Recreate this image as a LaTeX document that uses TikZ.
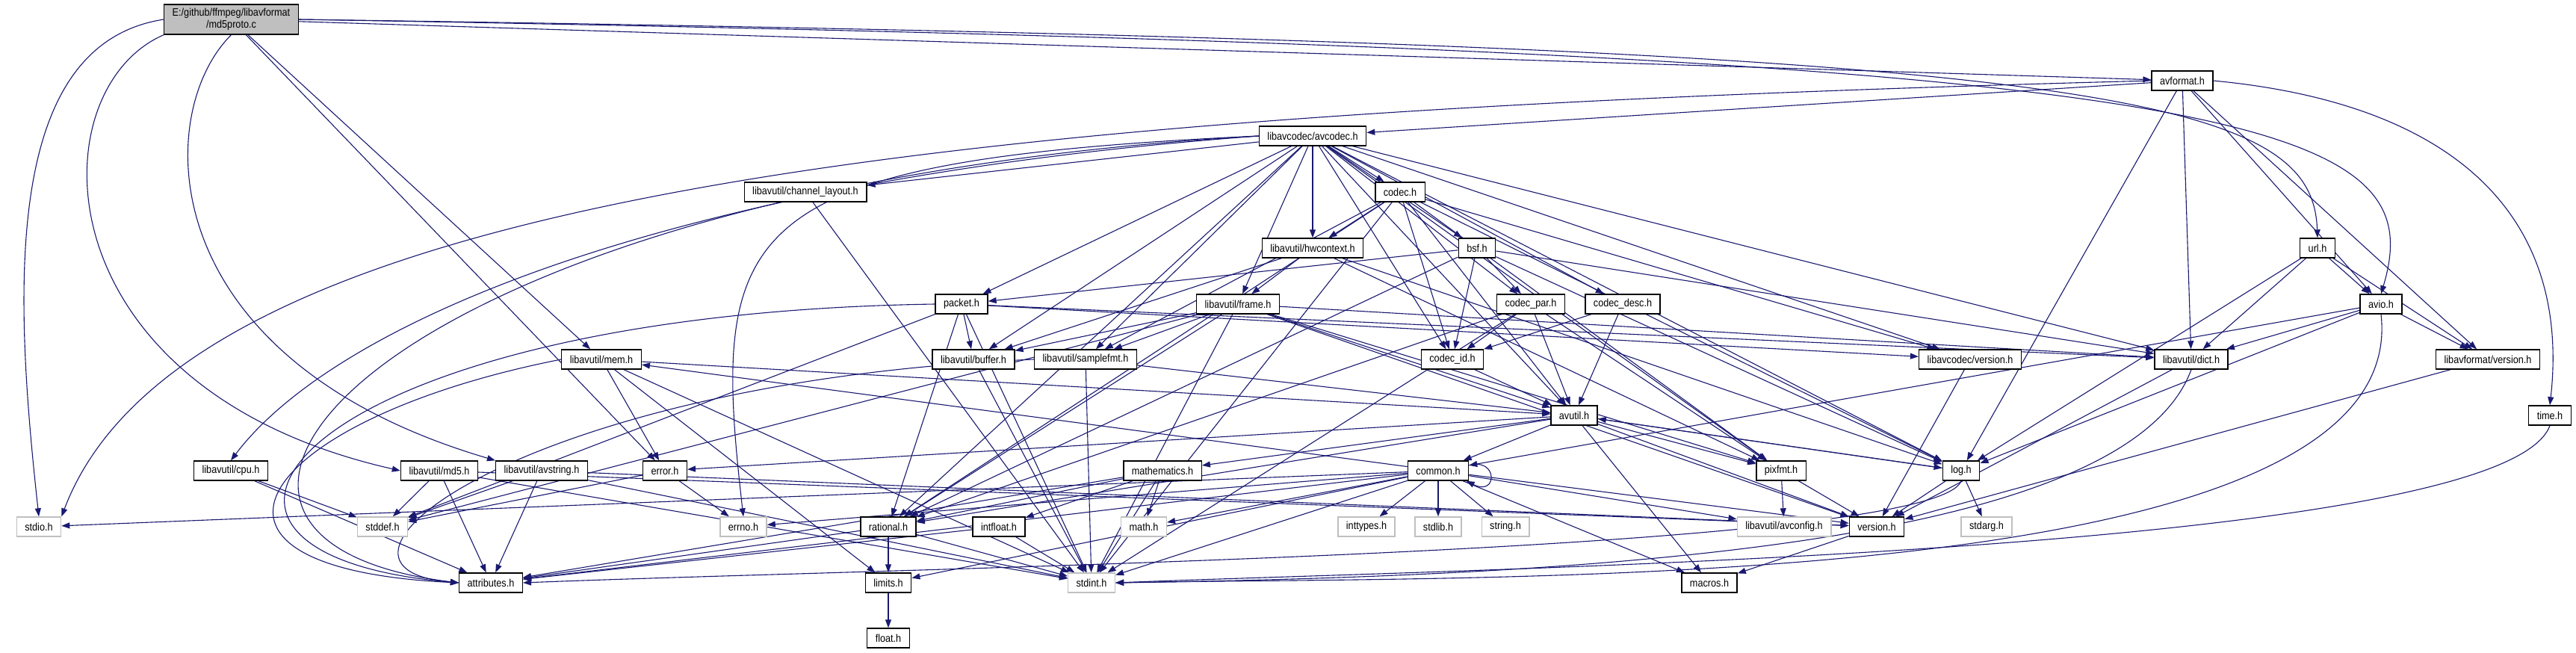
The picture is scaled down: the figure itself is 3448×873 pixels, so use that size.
\documentclass[tikz,border=0pt]{standalone}
\usepackage{fontspec}
\setmainfont{Liberation Sans}[FakeStretch=0.88]
\usetikzlibrary{arrows.meta,backgrounds}
\definecolor{edgeblue}{HTML}{191970}
\definecolor{sysgray}{HTML}{BFBFBF}
\begin{document}
\begin{tikzpicture}[x=1pt,y=-1pt,>={Triangle[length=11pt,width=8pt]},font=\fontsize{14.4}{16}\selectfont,
		file/.style={draw=black,fill=white,line width=1.4pt,minimum height=26pt,inner xsep=11pt,inner ysep=0pt},
		sys/.style={file,draw=sysgray},
		root/.style={file,fill=sysgray,align=center,minimum height=40pt},
		dep/.style={->,draw=edgeblue,line width=1.1pt}]
	\useasboundingbox (0,0) rectangle (3448,873);
	\node[root] (root) at (309.5,26) {E:/github/ffmpeg/libavformat\\/md5proto.c};
	\node[file] (avformat) at (2921,108) {avformat.h};
	\node[file] (avcodec) at (1757,182) {libavcodec/avcodec.h};
	\node[file] (chlayout) at (1078,257) {libavutil/channel\_layout.h};
	\node[file] (codec) at (1874,257) {codec.h};
	\node[file] (hwctx) at (1757,332) {libavutil/hwcontext.h};
	\node[file] (bsf) at (1977,332) {bsf.h};
	\node[file] (url) at (3102,332) {url.h};
	\node[file] (packet) at (1287,407) {packet.h};
	\node[file] (frame) at (1657,407) {libavutil/frame.h};
	\node[file] (codecpar) at (2049,407) {codec\_par.h};
	\node[file] (codecdesc) at (2172,407) {codec\_desc.h};
	\node[file] (avio) at (3187,407) {avio.h};
	\node[file] (mem) at (805,481) {libavutil/mem.h};
	\node[file] (buffer) at (1303,481) {libavutil/buffer.h};
	\node[file] (samplefmt) at (1453,481) {libavutil/samplefmt.h};
	\node[file] (codecid) at (1944,481) {codec\_id.h};
	\node[file] (lavcver) at (2637,481) {libavcodec/version.h};
	\node[file] (dict) at (2933,481) {libavutil/dict.h};
	\node[file] (lavfver) at (3330,481) {libavformat/version.h};
	\node[file] (timeh) at (3413,556) {time.h};
	\node[file] (avutil) at (2107,556) {avutil.h};
	\node[file] (cpu) at (309,630) {libavutil/cpu.h};
	\node[file] (md5) at (588,630) {libavutil/md5.h};
	\node[file] (avstring) at (725,630) {libavutil/avstring.h};
	\node[file] (error) at (890,630) {error.h};
	\node[file] (mathematics) at (1556,630) {mathematics.h};
	\node[file] (common) at (1925,630) {common.h};
	\node[file] (pixfmt) at (2384,630) {pixfmt.h};
	\node[file] (log) at (2625,630) {log.h};
	\node[sys] (stdio) at (52,705) {stdio.h};
	\node[sys] (stddef) at (512,705) {stddef.h};
	\node[sys] (errno) at (995,705) {errno.h};
	\node[file] (rational) at (1189,705) {rational.h};
	\node[file] (intfloat) at (1337,705) {intfloat.h};
	\node[sys] (math) at (1531,705) {math.h};
	\node[sys] (inttypes) at (1829,705) {inttypes.h};
	\node[sys] (stdlib) at (1925,705) {stdlib.h};
	\node[sys] (string) at (2015,705) {string.h};
	\node[sys] (avconfig) at (2388,705) {libavutil/avconfig.h};
	\node[file] (version) at (2512,705) {version.h};
	\node[sys] (stdarg) at (2659,705) {stdarg.h};
	\node[file] (attributes) at (657,780) {attributes.h};
	\node[file] (limits) at (1189,780) {limits.h};
	\node[sys] (stdint) at (1461,780) {stdint.h};
	\node[file] (macros) at (2288,780) {macros.h};
	\node[file] (float) at (1189,854) {float.h};
	\begin{scope}[on background layer]
		\foreach \t in {mem,error,avformat} \draw[dep] (root) -- (\t);
		\draw[dep] (root.west) .. controls (0,60) and (20,400) .. (stdio.north);
		\draw[dep] (root.south west) .. controls (50,120) and (50,520) .. (md5.west);
		\draw[dep] (root.south) .. controls (205,150) and (200,480) .. (avstring.north west);
		\draw[dep] (root.east) .. controls (2800,60) and (3095,120) .. (url.north);
		\draw[dep] (root.east) .. controls (3000,70) and (3260,150) .. (avio.north);
		\foreach \t in {avcodec,dict,log,avio,lavfver} \draw[dep] (avformat) -- (\t);
		\draw[dep] (avformat.west) .. controls (1300,150) and (250,250) .. (stdio.north east);
		\draw[dep] (avformat.east) .. controls (3300,140) and (3440,300) .. (timeh.north);
		\foreach \t in {samplefmt,avutil,buffer,chlayout,dict,frame,hwctx,log,pixfmt,rational,bsf,codec,codecdesc,codecpar,codecid,packet,lavcver} \draw[dep] (avcodec) -- (\t);
		\draw[dep] (avcodec.west) .. controls (980,215) and (950,300) .. (errno.north);
		\draw[dep] (avcodec.west) .. controls (900,240) and (450,430) .. (cpu.north);
		\draw[dep] (avcodec.west) .. controls (500,250) and (120,720) .. (attributes.west);
		\foreach \t in {stdint} \draw[dep] (chlayout) -- (\t);
		\foreach \t in {stdint,avutil,hwctx,log,pixfmt,rational,samplefmt,codecid,lavcver} \draw[dep] (codec) -- (\t);
		\foreach \t in {buffer,frame,log,pixfmt} \draw[dep] (hwctx) -- (\t);
		\foreach \t in {dict,log,rational,codecid,codecpar,packet} \draw[dep] (bsf) -- (\t);
		\foreach \t in {avio,dict,log,lavfver} \draw[dep] (url) -- (\t);
		\foreach \t in {stddef,stdint,buffer,dict,rational,lavcver} \draw[dep] (packet) -- (\t);
		\draw[dep] (packet.west) .. controls (400,420) and (150,740) .. (attributes.west);
		\foreach \t in {stddef,stdint,avutil,buffer,dict,rational,samplefmt,pixfmt,version} \draw[dep] (frame) -- (\t);
		\foreach \t in {stdint,avutil,rational,pixfmt,codecid} \draw[dep] (codecpar) -- (\t);
		\foreach \t in {avutil,codecid} \draw[dep] (codecdesc) -- (\t);
		\foreach \t in {common,dict,log,lavfver} \draw[dep] (avio) -- (\t);
		\draw[dep] (avio.south) .. controls (3230,800) and (2000,770) .. (stdint.east);
		\foreach \t in {limits,stdint,error,avutil} \draw[dep] (mem) -- (\t);
		\draw[dep] (mem.west) .. controls (350,560) and (200,760) .. (attributes.west);
		\foreach \t in {stdint} \draw[dep] (buffer) -- (\t);
		\foreach \t in {stdint,avutil} \draw[dep] (samplefmt) -- (\t);
		\draw[dep] (samplefmt.west) .. controls (700,510) and (380,760) .. (attributes.west);
		\foreach \t in {avutil} \draw[dep] (codecid) -- (\t);
		\foreach \t in {version} \draw[dep] (lavcver) -- (\t);
		\foreach \t in {version} \draw[dep] (dict) -- (\t);
		\draw[dep] (dict.south) .. controls (2850,720) and (2200,770) .. (stdint.east);
		\foreach \t in {version} \draw[dep] (lavfver) -- (\t);
		\draw[dep] (timeh.south) .. controls (3350,740) and (2000,760) .. (stdint.east);
		\foreach \t in {common,error,rational,version,macros,mathematics,log,pixfmt} \draw[dep] (avutil) -- (\t);
		\foreach \t in {stddef,attributes} \draw[dep] (cpu) -- (\t);
		\foreach \t in {stddef,stdint,attributes,version} \draw[dep] (md5) -- (\t);
		\foreach \t in {stddef,stdint,attributes,version} \draw[dep] (avstring) -- (\t);
		\foreach \t in {errno,stddef} \draw[dep] (error) -- (\t);
		\foreach \t in {stdint,math,attributes,rational,intfloat} \draw[dep] (mathematics) -- (\t);
		\foreach \t in {errno,inttypes,limits,math,stdint,stdio,stdlib,string,attributes,macros,version,avconfig,mem} \draw[dep] (common) -- (\t);
		\draw[dep] (common.10) .. controls (2005,612) and (2005,665) .. (common.-20);
		\foreach \t in {avconfig,version} \draw[dep] (pixfmt) -- (\t);
		\foreach \t in {stdarg,avutil,version} \draw[dep] (log) -- (\t);
		\draw[dep] (log.south) .. controls (2590,740) and (1200,760) .. (attributes.east);
		\foreach \t in {stdint,limits,attributes} \draw[dep] (rational) -- (\t);
		\foreach \t in {stdint,attributes} \draw[dep] (intfloat) -- (\t);
		\foreach \t in {float} \draw[dep] (limits) -- (\t);
		\foreach \t in {macros} \draw[dep] (version) -- (\t);
	\end{scope}
\end{tikzpicture}
\end{document}
